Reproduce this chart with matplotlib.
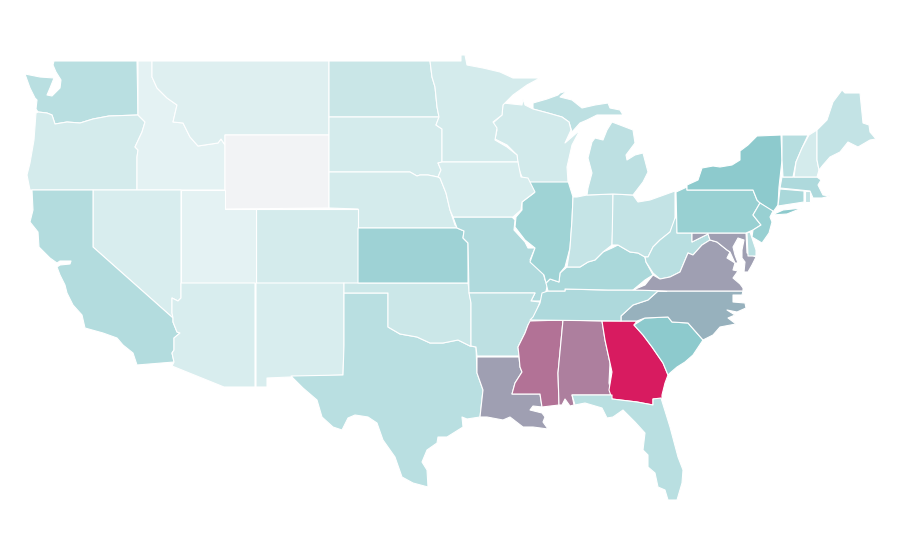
"""
plot.py

Choropleth of the contiguous US states. Outlines were traced from the reference
(no geodata available offline), fill colours come from the values via a colormap.
"""

import matplotlib

matplotlib.use("Agg")

import matplotlib.pyplot as plt
import numpy as np
from matplotlib.collections import PolyCollection
from matplotlib.colors import LinearSegmentedColormap

WA = [(54,61),(137,61),(138,115),(109,116),(93,119),(80,123),(67,122),(55,124),(52,115),(47,113),(38,112),(36,109),(37,100),(35,98),(30,88),(25,74),(40,77),(54,78),(50,88),(47,95),(52,96),(60,88),(61,80),(56,72),(53,65)]
OR = [(36,113),(38,112),(47,113),(52,115),(55,124),(67,122),(80,123),(93,119),(109,116),(138,115),(145,122),(142,132),(135,147),(138,150),(137,157),(137,190),(30,190),(27,175),(30,163),(34,140)]
ID = [(138,61),(152,61),(152,77),(157,88),(167,98),(177,105),(173,122),(183,123),(190,137),(198,146),(218,143),(221,139),(225,145),(225,190),(137,190),(137,157),(138,150),(135,147),(142,132),(145,122),(138,115)]
MT = [(152,61),(329,61),(329,135),(225,135),(225,145),(221,139),(218,143),(198,146),(190,137),(183,123),(173,122),(177,105),(167,98),(157,88),(152,77)]
WY = [(225,135),(329,135),(329,208),(225,209)]
ND = [(329,61),(430,61),(432,77),(435,87),(437,107),(439,117),(329,117)]
SD = [(329,117),(439,117),(436,125),(442,129),(442,162),(438,163),(441,170),(438,177),(428,175),(420,175),(417,176),(410,172),(329,172)]
NE = [(329,172),(410,172),(417,176),(420,175),(428,175),(438,177),(440,178),(446,193),(450,210),(455,225),(458,228),(358,228),(358,209),(329,208)]
CO = [(256,209),(358,209),(358,283),(256,283)]
UT = [(181,190),(225,190),(225,209),(256,209),(256,283),(181,283)]
NV = [(93,190),(181,190),(181,298),(178,301),(172,298),(172,313),(173,318),(93,247)]
CA = [(32,190),(93,190),(93,247),(173,318),(173,322),(177,332),(180,333),(174,338),(174,350),(172,353),(174,362),(137,365),(133,353),(123,345),(117,338),(103,333),(85,328),(82,315),(73,305),(67,293),(65,285),(60,275),(57,267),(60,265),(70,264),(71,261),(60,261),(57,263),(50,258),(39,247),(38,232),(30,222),(33,210)]
AZ = [(181,283),(255,283),(255,387),(224,387),(172,366),(174,362),(172,353),(174,350),(174,338),(180,333),(177,332),(173,322),(173,318),(172,313),(172,298),(178,301),(181,298)]
NM = [(256,283),(344,283),(344,345),(343,375),(290,377),(267,378),(267,387),(256,387)]
TX = [(344,293),(388,293),(388,327),(400,334),(417,337),(430,343),(443,343),(458,340),(470,346),(476,347),(477,373),(483,390),(480,417),(467,419),(462,417),(463,427),(447,437),(438,437),(437,443),(427,450),(422,462),(427,470),(428,487),(413,483),(402,477),(395,457),(383,440),(377,423),(368,417),(355,415),(348,418),(342,430),(333,427),(322,417),(317,400),(303,388),(291,376),(343,375),(344,345)]
OK_ = [(344,283),(468,283),(471,303),(471,346),(470,346),(458,340),(443,343),(430,343),(417,337),(400,334),(388,327),(388,293),(344,293)]
KS = [(358,228),(457,228),(464,231),(463,238),(468,243),(468,283),(358,283)]
MO = [(453,217),(512,217),(515,220),(514,230),(525,242),(528,248),(535,248),(530,260),(542,268),(545,280),(548,283),(545,295),(540,301),(531,301),(535,293),(469,293),(468,243),(463,238),(464,231),(457,228)]
AR = [(469,293),(535,293),(531,301),(540,302),(533,320),(528,325),(525,333),(518,347),(519,356),(477,356),(476,347),(471,346),(471,303)]
LA = [(477,357),(519,357),(520,367),(522,372),(515,383),(512,394),(540,394),(542,407),(533,406),(530,410),(542,413),(545,417),(543,422),(548,429),(533,427),(523,427),(510,417),(503,420),(487,417),(480,417),(483,390),(477,373)]
MS = [(530,321),(563,320),(558,373),(559,405),(542,407),(540,394),(512,394),(515,383),(522,372),(520,367),(519,356),(518,347),(525,333),(528,325)]
AL = [(563,320),(602,321),(605,340),(610,363),(609,383),(612,395),(572,395),(574,405),(570,406),(565,399),(562,405),(559,405),(558,373)]
GA = [(602,321),(637,321),(634,325),(643,335),(652,347),(663,363),(668,375),(665,383),(662,395),(662,399),(653,399),(653,405),(637,402),(612,399),(609,390),(612,372),(605,340)]
FL = [(572,395),(612,395),(612,399),(637,402),(653,405),(653,399),(661,398),(670,427),(678,457),(683,470),(682,483),(677,500),(668,500),(665,490),(658,487),(655,473),(648,467),(648,455),(643,450),(645,433),(635,422),(623,410),(613,417),(607,418),(602,408),(585,403),(575,405)]
SC = [(634,325),(645,318),(668,317),(672,322),(688,323),(703,340),(693,355),(685,362),(677,367),(670,373),(668,375),(663,363),(652,347),(643,335)]
NC = [(621,321),(621,316),(633,305),(648,300),(658,291),(743,291),(742,295),(733,295),(733,302),(745,303),(746,308),(737,312),(727,310),(735,315),(728,318),(736,324),(720,327),(713,335),(703,340),(688,323),(672,322),(668,317),(645,318),(637,321)]
TN = [(548,291),(565,291),(565,289),(602,290),(633,290),(667,291),(658,291),(648,300),(633,305),(621,316),(621,321),(530,320),(533,317),(540,303),(542,293)]
KY = [(548,291),(565,291),(565,289),(608,290),(633,290),(645,280),(653,275),(646,262),(645,257),(638,253),(630,252),(618,245),(612,248),(603,252),(595,260),(588,262),(580,267),(567,267),(560,273),(559,282),(550,279),(546,283)]
IL = [(528,181),(568,181),(573,197),(572,220),(570,248),(565,267),(560,273),(559,282),(550,279),(546,283),(544,275),(530,262),(535,248),(525,240),(515,227),(516,217),(522,210),(522,202),(534,193)]
IN = [(573,197),(577,197),(587,195),(613,194),(613,220),(612,245),(603,252),(595,260),(588,262),(580,267),(567,267),(570,248),(572,220)]
OH = [(613,194),(633,195),(638,202),(650,200),(675,191),(675,220),(670,232),(660,240),(653,247),(648,257),(645,257),(638,253),(630,252),(618,245),(612,245)]
WV = [(675,218),(677,218),(677,233),(692,233),(692,242),(700,238),(708,234),(710,240),(702,245),(693,255),(688,253),(680,272),(670,277),(660,279),(653,273),(646,262),(645,257),(648,257),(653,247),(660,240),(670,232)]
VA = [(633,290),(645,285),(653,275),(660,279),(670,277),(680,272),(688,253),(693,255),(702,245),(710,240),(717,242),(727,250),(730,252),(727,258),(735,263),(733,270),(738,271),(733,278),(740,284),(743,288),(743,291),(667,291)]
MD = [(692,233),(746,233),(747,253),(756,257),(752,265),(748,272),(744,272),(745,262),(742,258),(742,250),(744,240),(738,238),(733,247),(735,255),(738,263),(735,263),(730,252),(727,250),(717,242),(710,240),(708,234),(700,238),(692,242)]
DE = [(747,233),(750,232),(756,250),(756,256),(748,256)]
PA = [(676,192),(687,187),(687,190),(753,190),(757,200),(760,203),(753,215),(761,225),(753,230),(746,233),(677,233)]
NY = [(687,185),(698,180),(702,168),(713,166),(720,167),(732,165),(740,160),(740,151),(748,145),(757,136),(781,135),(782,160),(779,187),(778,205),(773,212),(760,203),(757,200),(753,190),(687,190)]
LONG_ISLAND = [(772,215),(783,210),(802,208),(787,214)]
NJ = [(760,203),(773,211),(770,217),(772,222),(769,233),(762,243),(752,237),(753,230),(761,225),(753,215)]
CT = [(780,189),(804,191),(804,202),(778,206)]
RI = [(805,191),(810,191),(810,202),(805,202)]
MA = [(782,177),(817,177),(821,180),(818,185),(823,195),(830,196),(822,198),(813,198),(810,191),(780,188)]
VT = [(782,135),(808,135),(802,148),(796,162),(793,177),(783,177),(782,160)]
NH = [(809,135),(817,130),(817,160),(819,170),(817,177),(794,177),(796,162),(802,148)]
ME = [(817,130),(827,120),(833,102),(842,90),(845,93),(860,93),(863,123),(869,125),(870,132),(876,139),(870,140),(858,147),(848,142),(840,152),(830,157),(823,165),(819,170),(817,160)]
MI_LOWER = [(587,195),(613,194),(633,195),(643,182),(648,172),(643,153),(635,155),(627,160),(626,155),(635,143),(633,130),(620,125),(612,122),(607,130),(603,140),(595,138),(592,142),(588,158),(592,173),(588,188)]
MI_UPPER = [(533,109),(533,103),(547,99),(558,95),(560,93),(567,91),(560,97),(572,100),(582,108),(595,105),(608,103),(610,108),(620,110),(623,115),(608,115),(597,115),(587,120),(580,123),(572,132),(569,122),(562,117),(548,113)]
WI = [(503,103),(522,105),(523,99),(525,105),(533,109),(548,113),(562,117),(569,122),(571,130),(565,143),(580,130),(572,145),(567,167),(568,182),(527,182),(522,177),(518,167),(517,155),(507,145),(495,139),(497,130),(493,123),(502,115)]
MN = [(430,61),(461,61),(461,55),(465,55),(467,65),(483,68),(500,72),(513,78),(540,78),(527,85),(513,95),(505,103),(503,105),(502,115),(493,122),(497,128),(495,140),(507,147),(517,155),(518,162),(442,162),(442,129),(436,125),(439,117),(437,107),(435,87),(432,77)]
IA = [(442,162),(518,162),(521,177),(528,178),(535,192),(522,202),(521,210),(513,217),(453,217),(450,210),(446,193),(440,178),(438,177),(441,170),(438,163)]

# one value per polygon, nan = no data
NAMES = ["WA", "OR", "ID", "MT", "WY", "ND", "SD", "NE", "CO", "UT", "NV", "CA", "AZ", "NM", "TX", "OK", "KS",
         "MO", "AR", "LA", "MS", "AL", "GA", "FL", "SC", "NC", "TN", "KY", "IL", "IN", "OH", "WV", "VA", "MD",
         "DE", "PA", "NY", "LI", "NJ", "CT", "RI", "MA", "VT", "NH", "ME", "MI", "MI_U", "WI", "MN", "IA"]
VALUES = [15, 6, 1, 3, np.nan, 10, 6, 6, 6, 1, 5, 17, 5, 5, 15, 9, 24,
          18, 14, 47, 65, 60, 100, 15, 30, 40, 19, 20, 23.5, 11, 12, 15, 47, 47,
          15, 26, 30, 30, 26, 20, 12, 19, 16, 6, 12, 14, 14, 7, 6, 5]
OUTLINES = [WA, OR, ID, MT, WY, ND, SD, NE, CO, UT, NV, CA, AZ, NM, TX, OK_, KS,
            MO, AR, LA, MS, AL, GA, FL, SC, NC, TN, KY, IL, IN, OH, WV, VA, MD,
            DE, PA, NY, LONG_ISLAND, NJ, CT, RI, MA, VT, NH, ME, MI_LOWER, MI_UPPER, WI, MN, IA]

cmap = LinearSegmentedColormap.from_list(
    "teal_crimson", [(0.0, "#e6f3f4"), (0.30, "#8ccacd"), (1.0, "#d81b60")]
)
cmap.set_bad("#f2f3f5")

fig = plt.figure(figsize=(9, 5.6), dpi=100)
ax = fig.add_axes([0, 0, 1, 1])
states = PolyCollection(
    OUTLINES,
    array=np.ma.masked_invalid(VALUES),
    cmap=cmap,
    edgecolors="white",
    linewidths=0.8,
)
states.set_clim(0, 100)
ax.add_collection(states)
ax.set_xlim(0, 900)
ax.set_ylim(560, 0)
ax.axis("off")
fig.savefig("out.png", dpi=100, facecolor="white")
plt.close(fig)
